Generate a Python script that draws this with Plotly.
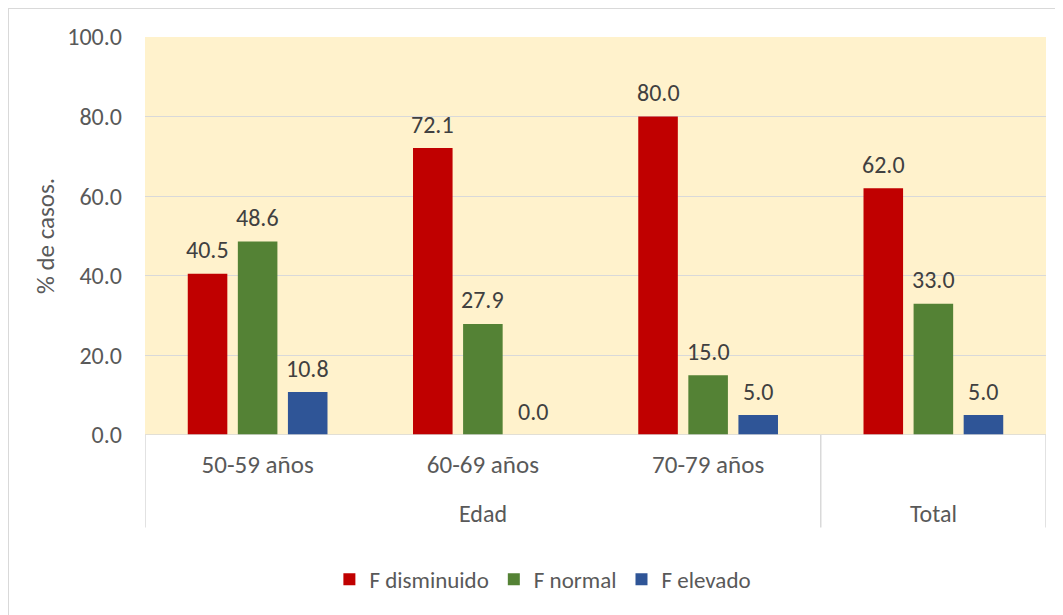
import plotly.graph_objects as go

categories = ["50-59 años", "60-69 años", "70-79 años", "Total"]
tick_labels = ["50-59 años", "60-69 años", "70-79 años", ""]
group_labels = ["Edad", "Total"]
group_centers = [1, 3]
series_names = ["F disminuido", "F normal", "F elevado"]
f_disminuido = [40.5, 72.1, 80.0, 62.0]
f_normal = [48.6, 27.9, 15.0, 33.0]
f_elevado = [10.8, 0.0, 5.0, 5.0]
y_ticks = [0, 20, 40, 60, 80, 100]

colors = ["#C00000", "#548235", "#2F5597"]
FONT = "Calibri, Carlito, Lato, sans-serif"
TXT = "#595959"
BARGAP = 0.333

W, H = 1055, 607
L, R, T, B = 137, 17, 29, 180
PW, PH = W - L - R, H - T - B

x_idx = list(range(len(categories)))
series = [f_disminuido, f_normal, f_elevado]
fig = go.Figure()
for name, vals, col in zip(series_names, series, colors):
    fig.add_trace(go.Bar(
        x=x_idx, y=vals, name=name, marker_color=col, marker_line_width=0,
    ))

# data labels positioned over each bar's slot
slot = (1 - BARGAP) / len(series)
for i, vals in enumerate(series):
    for j, v in enumerate(vals):
        fig.add_annotation(x=j + (i - (len(series) - 1) / 2) * slot, y=v, xref="x", yref="y",
                           text=f"{v:.1f}", showarrow=False, yanchor="middle", yshift=24,
                           font=dict(family=FONT, size=24, color="#404040"))

fig.update_layout(
    width=W, height=H,
    margin=dict(l=L, r=R, t=T, b=B),
    paper_bgcolor="white", plot_bgcolor="#FFF2CC",
    barmode="group", bargap=BARGAP, bargroupgap=0.21,
    font=dict(family=FONT, size=22, color=TXT),
    showlegend=True,
    legend=dict(orientation="h", x=0.507, xanchor="center", xref="container",
                y=0.059, yanchor="middle", yref="container",
                font=dict(family=FONT, size=23, color=TXT),
                itemwidth=30, traceorder="normal"),
    xaxis=dict(range=[-0.5, 3.5], tickmode="array", tickvals=x_idx, ticktext=tick_labels,
               showgrid=False, zeroline=False, showline=False, ticks="", ticklabelstandoff=12,
               tickfont=dict(family=FONT, size=25, color=TXT)),
    yaxis=dict(range=[0, 100], tickmode="array", tickvals=y_ticks,
               ticktext=[f"{v:.1f}" for v in y_ticks],
               showgrid=True, gridcolor="#D9D9D9", gridwidth=1.3,
               zeroline=False, showline=False, ticks="", ticklabelstandoff=22,
               tickfont=dict(family=FONT, size=24, color=TXT),
               title=dict(text="% de casos.", font=dict(family=FONT, size=25, color=TXT), standoff=5)),
)

line = dict(color="#D9D9D9", width=1.5)
# category axis base line and group dividers
fig.add_shape(type="line", xref="paper", yref="y", x0=0, x1=1, y0=0, y1=0, line=line)
for xv in [-0.5, 2.5, 3.5]:
    fig.add_shape(type="line", xref="x", yref="paper", x0=xv, x1=xv, y0=0, y1=-92.5 / PH, line=line)
# outer chart border (left and top edges at the figure edge)
bx, by = -L / PW, 1 + T / PH
fig.add_shape(type="line", xref="paper", yref="paper", x0=bx, x1=bx, y0=by, y1=-B / PH, line=dict(color="#D9D9D9", width=2))
fig.add_shape(type="line", xref="paper", yref="paper", x0=bx, x1=1 + R / PW, y0=by, y1=by, line=dict(color="#D9D9D9", width=2))

for gx, gl in zip(group_centers, group_labels):
    fig.add_annotation(x=gx, y=-78.5 / PH, xref="x", yref="paper", text=gl, showarrow=False,
                       yanchor="middle", font=dict(family=FONT, size=24, color=TXT))

fig.write_html("out.html")
